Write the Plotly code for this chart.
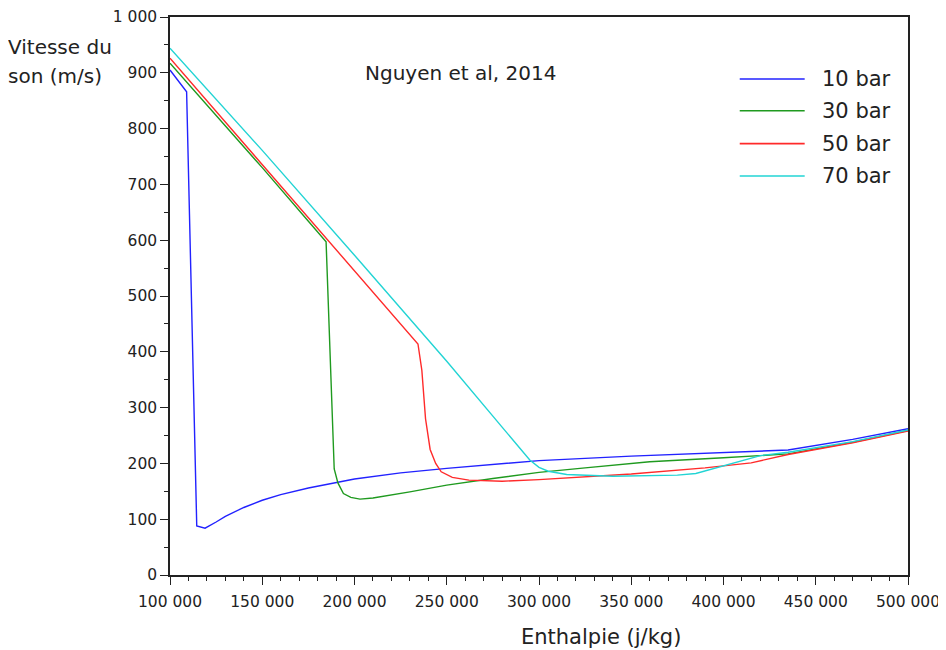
import plotly.graph_objects as go

# ---- data ----
h10 = [100000, 109000, 114500, 119000, 125000, 130000, 140000, 150000, 160000, 175000,
       200000, 225000, 250000, 275000, 300000, 350000, 400000, 435000, 470000, 500000]
v10 = [905, 866, 88, 84, 95, 105, 121, 134, 144, 156,
       172, 183, 191, 198, 205, 213, 219, 224, 243, 262]

h30 = [100000, 125000, 150000, 175000, 184600, 189000, 191000, 194000, 198000, 203000,
       210000, 230000, 250000, 275000, 300000, 325000, 360000, 400000, 435000, 470000, 500000]
v30 = [917, 824, 730, 634, 597, 190, 165, 146, 139, 136,
       138, 149, 161, 173, 184, 192, 203, 210, 217, 238, 259]

h50 = [100000, 150000, 200000, 234400, 236500, 238500, 241000, 244000, 247000, 253000,
       262000, 280000, 300000, 350000, 390000, 415000, 435000, 470000, 500000]
v50 = [926, 736, 545, 414, 367, 280, 225, 200, 185, 175,
       170, 168, 171, 181, 192, 201, 216, 237, 258]

h70 = [100000, 150000, 200000, 250000, 280000, 295000, 300000, 305000, 315000, 340000,
       375000, 385000, 420000, 435000, 470000, 500000]
v70 = [944, 761, 573, 383, 265, 206, 193, 186, 180, 177,
       179, 182, 214, 220, 239, 260]

series_names = ["10 bar", "30 bar", "50 bar", "70 bar"]
series_colors = ["#2222ff", "#1f9a1f", "#ff2a2a", "#22d4d4"]

x_tickvals = [100000, 150000, 200000, 250000, 300000, 350000, 400000, 450000, 500000]
x_ticktext = ["100 000", "150 000", "200 000", "250 000", "300 000",
              "350 000", "400 000", "450 000", "500 000"]
y_tickvals = [0, 100, 200, 300, 400, 500, 600, 700, 800, 900, 1000]
y_ticktext = ["0", "100", "200", "300", "400", "500", "600", "700", "800", "900", "1 000"]

FONT = "DejaVu Sans"
TXT = "#222222"

fig = go.Figure()
for (hx, vy), name, col in zip([(h10, v10), (h30, v30), (h50, v50), (h70, v70)],
                               series_names, series_colors):
    fig.add_trace(go.Scatter(x=hx, y=vy, mode="lines", name=name,
                             line=dict(color=col, width=1.4), showlegend=False))

# manual legend (lines + text)
leg_y = [0.889, 0.832, 0.773, 0.715]
for name, col, yy in zip(series_names, series_colors, leg_y):
    fig.add_shape(type="line", xref="paper", yref="paper",
                  x0=0.772, x1=0.860, y0=yy, y1=yy,
                  line=dict(color=col, width=1.6))
    fig.add_annotation(xref="paper", yref="paper", x=0.881, y=yy,
                       text=name, showarrow=False, xanchor="left", yanchor="middle",
                       font=dict(family=FONT, size=21, color=TXT))

fig.add_annotation(xref="paper", yref="paper", x=0.393, y=0.90,
                   text="Nguyen et al, 2014", showarrow=False,
                   xanchor="center", yanchor="middle",
                   font=dict(family=FONT, size=20, color=TXT))

fig.add_annotation(xref="paper", yref="paper", x=-0.222, y=0.947,
                   text="Vitesse du", showarrow=False,
                   xanchor="left", yanchor="middle",
                   font=dict(family=FONT, size=20, color=TXT))
fig.add_annotation(xref="paper", yref="paper", x=-0.222, y=0.895,
                   text="son (m/s)", showarrow=False,
                   xanchor="left", yanchor="middle",
                   font=dict(family=FONT, size=20, color=TXT))

fig.add_annotation(xref="paper", yref="paper", x=0.584, y=-0.111,
                   text="Enthalpie (j/kg)", showarrow=False,
                   xanchor="center", yanchor="middle",
                   font=dict(family=FONT, size=21, color=TXT))

fig.update_xaxes(range=[100000, 500000], tickvals=x_tickvals, ticktext=x_ticktext,
                 showgrid=False, zeroline=False, showline=True, linecolor=TXT,
                 linewidth=1.5, mirror=True, ticks="outside", ticklen=8, tickwidth=1.2,
                 tickcolor=TXT, automargin=False, ticklabelstandoff=4,
                 tickfont=dict(family=FONT, size=15.5, color=TXT),
                 minor=dict(dtick=10000, ticks="outside", ticklen=4, tickwidth=1,
                            tickcolor=TXT, showgrid=False))
fig.update_yaxes(range=[0, 1000], tickvals=y_tickvals, ticktext=y_ticktext,
                 showgrid=False, zeroline=False, showline=True, linecolor=TXT,
                 linewidth=1.5, mirror=True, ticks="outside", ticklen=8, tickwidth=1.2,
                 tickcolor=TXT, automargin=False,
                 tickfont=dict(family=FONT, size=15.5, color=TXT),
                 minor=dict(dtick=50, ticks="outside", ticklen=4, tickwidth=1,
                            tickcolor=TXT, showgrid=False))

fig.update_layout(width=946, height=650,
                  margin=dict(l=162, r=46, t=9, b=83, autoexpand=False),
                  plot_bgcolor="white", paper_bgcolor="white",
                  showlegend=False,
                  font=dict(family=FONT))

fig.write_html("out.html")
